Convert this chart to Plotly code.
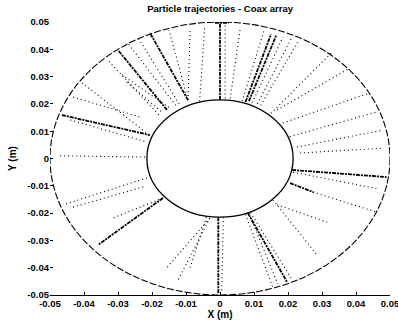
import plotly.graph_objects as go

# Electrode radii of the coax array (m)
R_INNER = 0.0215
R_OUTER = 0.05

# Dense trajectory bundles: start point (inner electrode) -> end point (m)
dense_x0 = [0.0, -0.0015, -0.0094, -0.0156, -0.0465, 0.0075, 0.0085, -0.0168, -0.0005, 0.0082, 0.0206, 0.0212]
dense_y0 = [0.0215, 0.0497, 0.0214, 0.0178, 0.0159, 0.0207, 0.0210, -0.0145, -0.0215, -0.0200, -0.0090, -0.0042]
dense_x1 = [0.0, 0.0025, -0.0206, -0.0300, -0.0206, 0.0150, 0.0165, -0.0359, -0.0005, 0.0197, 0.0274, 0.0490]
dense_y1 = [0.0497, 0.0497, 0.0460, 0.0397, 0.0086, 0.0455, 0.0450, -0.0317, -0.0495, -0.0452, -0.0123, -0.0068]

# Sparse (dotted) trajectories: start point -> end point (m)
sparse_x0 = [0.0015, -0.0094, -0.0094, -0.0288, -0.0274, -0.0406, -0.0432, -0.0440, -0.0470,
             0.0095, 0.0110, 0.0030, 0.0168, 0.0185, 0.0205, 0.0226, 0.0235,
             -0.0215, -0.0226, -0.0168, -0.0030, -0.0030, -0.0040, 0.0010,
             0.0085, 0.0090, 0.0156, 0.0168, 0.0274, 0.0215,
             -0.0120, -0.0130, -0.0180, 0.0065, 0.0120, 0.0075, -0.0060, 0.0150]
sparse_y0 = [0.0220, 0.0214, 0.0214, 0.0306, 0.0280, 0.0277, 0.0225, 0.0141, 0.0010,
             0.0205, 0.0200, 0.0220, 0.0178, 0.0130, 0.0080, 0.0042, 0.0020,
             -0.0071, -0.0104, -0.0145, -0.0218, -0.0218, -0.0215, -0.0215,
             -0.0200, -0.0198, -0.0152, -0.0170, -0.0123, -0.0050,
             0.0200, 0.0195, 0.0160, 0.0210, 0.0195, -0.0205, 0.0210, 0.0165]
sparse_x1 = [0.0015, -0.0150, -0.0088, -0.0147, -0.0168, -0.0215, -0.0235, -0.0215, -0.0215,
             0.0185, 0.0210, 0.0060, 0.0380, 0.0440, 0.0460, 0.0480, 0.0480,
             -0.0462, -0.0440, -0.0315, -0.0156, -0.0126, -0.0088, 0.0005,
             0.0170, 0.0210, 0.0285, 0.0315, 0.0460, 0.0460,
             -0.0240, -0.0270, -0.0330, 0.0130, 0.0230, 0.0155, -0.0045, 0.0330]
sparse_y1 = [0.0490, 0.0470, 0.0470, 0.0185, 0.0167, 0.0093, 0.0152, 0.0060, 0.0005,
             0.0445, 0.0440, 0.0480, 0.0330, 0.0240, 0.0170, 0.0104, 0.0038,
             -0.0170, -0.0181, -0.0218, -0.0400, -0.0452, -0.0400, -0.0490,
             -0.0460, -0.0440, -0.0353, -0.0233, -0.0196, -0.0110,
             0.0440, 0.0420, 0.0360, 0.0470, 0.0430, -0.0470, 0.0480, 0.0390]

tick_vals = [-0.05, -0.04, -0.03, -0.02, -0.01, 0, 0.01, 0.02, 0.03, 0.04, 0.05]
tick_text = ["-0.05", "-0.04", "-0.03", "-0.02", "-0.01", "0", "0.01", "0.02", "0.03", "0.04", "0.05"]


def segments(x0, y0, x1, y1):
    xs, ys = [], []
    for a, b, c, d in zip(x0, y0, x1, y1):
        xs += [a, c, None]
        ys += [b, d, None]
    return xs, ys


FONT = "Liberation Sans, Arial, sans-serif"
fig = go.Figure()

sx, sy = segments(sparse_x0, sparse_y0, sparse_x1, sparse_y1)
fig.add_trace(go.Scatter(x=sx, y=sy, mode="lines", cliponaxis=False,
                         line=dict(color="black", width=1.1, dash="1px,3px"),
                         hoverinfo="skip", showlegend=False))

dx, dy = segments(dense_x0, dense_y0, dense_x1, dense_y1)
fig.add_trace(go.Scatter(x=dx, y=dy, mode="lines", cliponaxis=False,
                         line=dict(color="black", width=1.8, dash="4px,1px,2px,1px"),
                         hoverinfo="skip", showlegend=False))

# Electrode outlines
fig.add_shape(type="circle", xref="x", yref="y",
              x0=-R_INNER, x1=R_INNER, y0=-R_INNER, y1=R_INNER,
              line=dict(color="black", width=1.3))
fig.add_shape(type="circle", xref="x", yref="y",
              x0=-R_OUTER, x1=R_OUTER, y0=-R_OUTER, y1=R_OUTER,
              line=dict(color="black", width=1.1, dash="7px,2px"))

axis_common = dict(
    range=[-0.05, 0.05], tickvals=tick_vals, ticktext=tick_text,
    ticks="inside", ticklen=3, tickcolor="black", tickwidth=1,
    showgrid=False, zeroline=False, ticklabeloverflow="allow", automargin=False,
    tickfont=dict(family=FONT, size=9.5, color="black", weight="bold"),
)

fig.update_layout(
    width=398, height=328,
    margin=dict(l=50, r=8, t=22, b=33),
    paper_bgcolor="white", plot_bgcolor="white",
    title=dict(text="Particle trajectories - Coax array", x=0.553, xanchor="center",
               y=0.973, yanchor="middle", yref="container",
               font=dict(family=FONT, size=9.5, color="black", weight="bold")),
    xaxis=dict(**axis_common, showline=True, linecolor="black", linewidth=1,
               title=dict(text="X (m)", standoff=1,
                          font=dict(family=FONT, size=10, color="black", weight="bold"))),
    yaxis=dict(**axis_common, showline=False,
               title=dict(text="Y (m)", standoff=8,
                          font=dict(family=FONT, size=10, color="black", weight="bold"))),
)

fig.write_html("out.html")
